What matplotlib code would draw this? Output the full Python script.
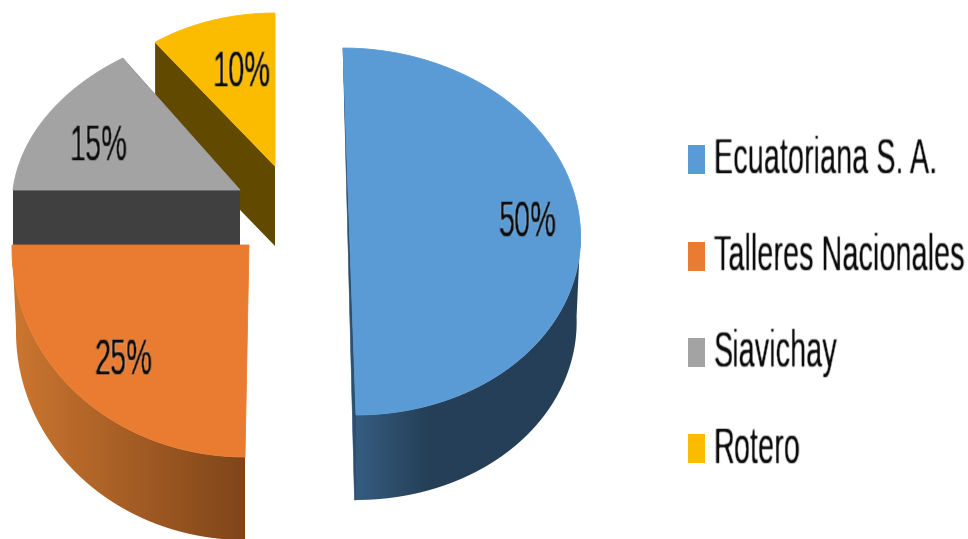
import numpy as np
import matplotlib
matplotlib.use("Agg")
import matplotlib.pyplot as plt
from matplotlib.colors import LinearSegmentedColormap
from matplotlib.patches import Polygon, Rectangle

# Chart data
categories = ["Ecuatoriana S. A.", "Talleres Nacionales", "Siavichay", "Rotero"]
shares = [50, 25, 15, 10]

# Styling of each wedge
top_colors = ["#5b9bd5", "#e97c31", "#a3a3a3", "#fbbc00"]
rim_left = ["#355c80", "#cc7630", "#404040", "#614a00"]
rim_right = ["#243f57", "#7f4519", "#404040", "#614a00"]
rim_stop = [0.33, 1.0, 1.0, 1.0]

# Exploded wedge geometry in pixels: centre, radii, shear, extrusion depth
centers = [(349.5, 231.5), (249, 245), (240, 190), (275, 166)]
radii = [(231, 183.5), (237, 212), (227, 163), (204, 153)]
shears = [-6.5, 4, 20, 0]
depths = [85, 83, 60, 80]
BOTTOM_SHRINK = 0.983
label_xy = [(528, 236), (123, 374), (99, 160), (242, 86)]

legend_x, legend_w, legend_h = 688, 17, 29
legend_tops = [145, 242, 337.5, 434]
legend_baselines = [173, 270, 366, 463]
legend_text_x = 714

FONT = ["Liberation Sans Narrow", "Liberation Sans", "DejaVu Sans"]
TEXT_SIZE = 20.8
TEXT_STRETCH = 1.70
TEXT_GAIN = 1.25


def tall_text(stretch, drop=0):
    """Agg filter: stretches drawn text vertically and softens it a little."""
    def apply(img, dpi):
        h, w = img.shape[:2]
        new_h = int(round(h * stretch))
        rows = np.linspace(0, h - 1, new_h)
        low = np.floor(rows).astype(int)
        high = np.minimum(low + 1, h - 1)
        frac = (rows - low)[:, None, None]
        tall = img[low] * (1 - frac) + img[high] * frac
        pad = np.pad(tall, ((2, 2), (2, 2), (0, 0)))
        kernel = np.array([0.2, 0.6, 0.2])
        soft = np.apply_along_axis(lambda v: np.convolve(v, kernel, "same"), 0, pad)
        soft = np.apply_along_axis(lambda v: np.convolve(v, kernel, "same"), 1, soft)
        soft[..., 3] = np.clip(soft[..., 3] * TEXT_GAIN, 0, 1)
        return soft, -2, -2 - drop
    return apply


def rim_point(i, theta, scale=1.0):
    cx, cy = centers[i]
    rx, ry = radii[i]
    return np.column_stack([
        cx + scale * rx * np.sin(theta) + shears[i] * np.cos(theta),
        cy - ry * np.cos(theta),
    ])


fig = plt.figure(figsize=(9.68, 5.39), dpi=100, facecolor="white")
ax = fig.add_axes([0, 0, 1, 1])
ax.set_xlim(0, 968)
ax.set_ylim(539, 0)
ax.axis("off")

edges = np.deg2rad(np.cumsum([0] + shares) / sum(shares) * 360)

# Back wedges first so the nearer ones overlap them
for z, i in enumerate([3, 2, 1, 0]):
    theta = np.linspace(edges[i], edges[i + 1], 160)
    arc = rim_point(i, theta)
    center = np.array(centers[i], dtype=float)
    drop = np.array([0, depths[i]])
    base = z * 10 + 1

    # Flat cut faces of the back wedges
    if i >= 2:
        for end in (arc[0], arc[-1]):
            cut = np.array([end, center, center + drop, end + drop])
            ax.add_patch(Polygon(cut, closed=True, fc=rim_right[i], ec="none", zorder=base))

    # Outer wall on the near half of the rim, shaded from left to right
    if i < 2:
        near = np.linspace(max(edges[i], np.pi / 2), min(edges[i + 1], 3 * np.pi / 2), 160)
        upper = rim_point(i, near)
        lower = rim_point(i, near, BOTTOM_SHRINK) + drop
        wall = np.vstack([upper, lower[::-1]])
        poly = Polygon(wall, closed=True, fc="none", ec="none", zorder=base + 1)
        ax.add_patch(poly)
        cmap = LinearSegmentedColormap.from_list(
            "wall", [(0, rim_left[i]), (rim_stop[i], rim_right[i]), (1, rim_right[i])]
        )
        x0, x1 = wall[:, 0].min(), wall[:, 0].max()
        y0, y1 = wall[:, 1].min(), wall[:, 1].max()
        shade = ax.imshow(
            np.linspace(0, 1, 256)[None, :], cmap=cmap, aspect="auto",
            extent=(x0, x1, y1, y0), zorder=base + 1, interpolation="bilinear",
        )
        shade.set_clip_path(poly)

    # Top surface
    face = np.vstack([center, arc])
    ax.add_patch(Polygon(face, closed=True, fc=top_colors[i], ec=top_colors[i],
                         lw=0.6, zorder=base + 2))

# Thin sliver of the blue cut face along its straight edge, behind the top surface
blue_top = rim_point(0, np.array([edges[0]]))[0]
blue_low = rim_point(0, np.array([edges[1]]))[0]
ax.add_patch(Polygon([blue_top, blue_low, blue_low + [0, depths[0]], blue_low + [-1.5, depths[0]]],
                     closed=True, fc="#2c4f70", ec="#2c4f70", lw=0.4, zorder=30))

ax.set_xlim(0, 968)
ax.set_ylim(539, 0)

# Percentage labels
for (x, y), value in zip(label_xy, shares):
    t = ax.text(x, y, f"{value}%", ha="center", va="baseline", color="#0d0d0d",
                family=FONT, fontsize=TEXT_SIZE, zorder=50)
    t.set_agg_filter(tall_text(TEXT_STRETCH))

# Legend
drops = [0, 0, 5, 0]
for name, color, top, base, d in zip(categories, top_colors, legend_tops, legend_baselines, drops):
    ax.add_patch(Rectangle((legend_x, top), legend_w, legend_h, fc=color, ec="none", zorder=50))
    t = ax.text(legend_text_x, base, name, ha="left", va="baseline", color="#0d0d0d",
                family=FONT, fontsize=TEXT_SIZE, zorder=50)
    t.set_agg_filter(tall_text(TEXT_STRETCH, d))

fig.savefig("out.png", dpi=100, facecolor="white")
